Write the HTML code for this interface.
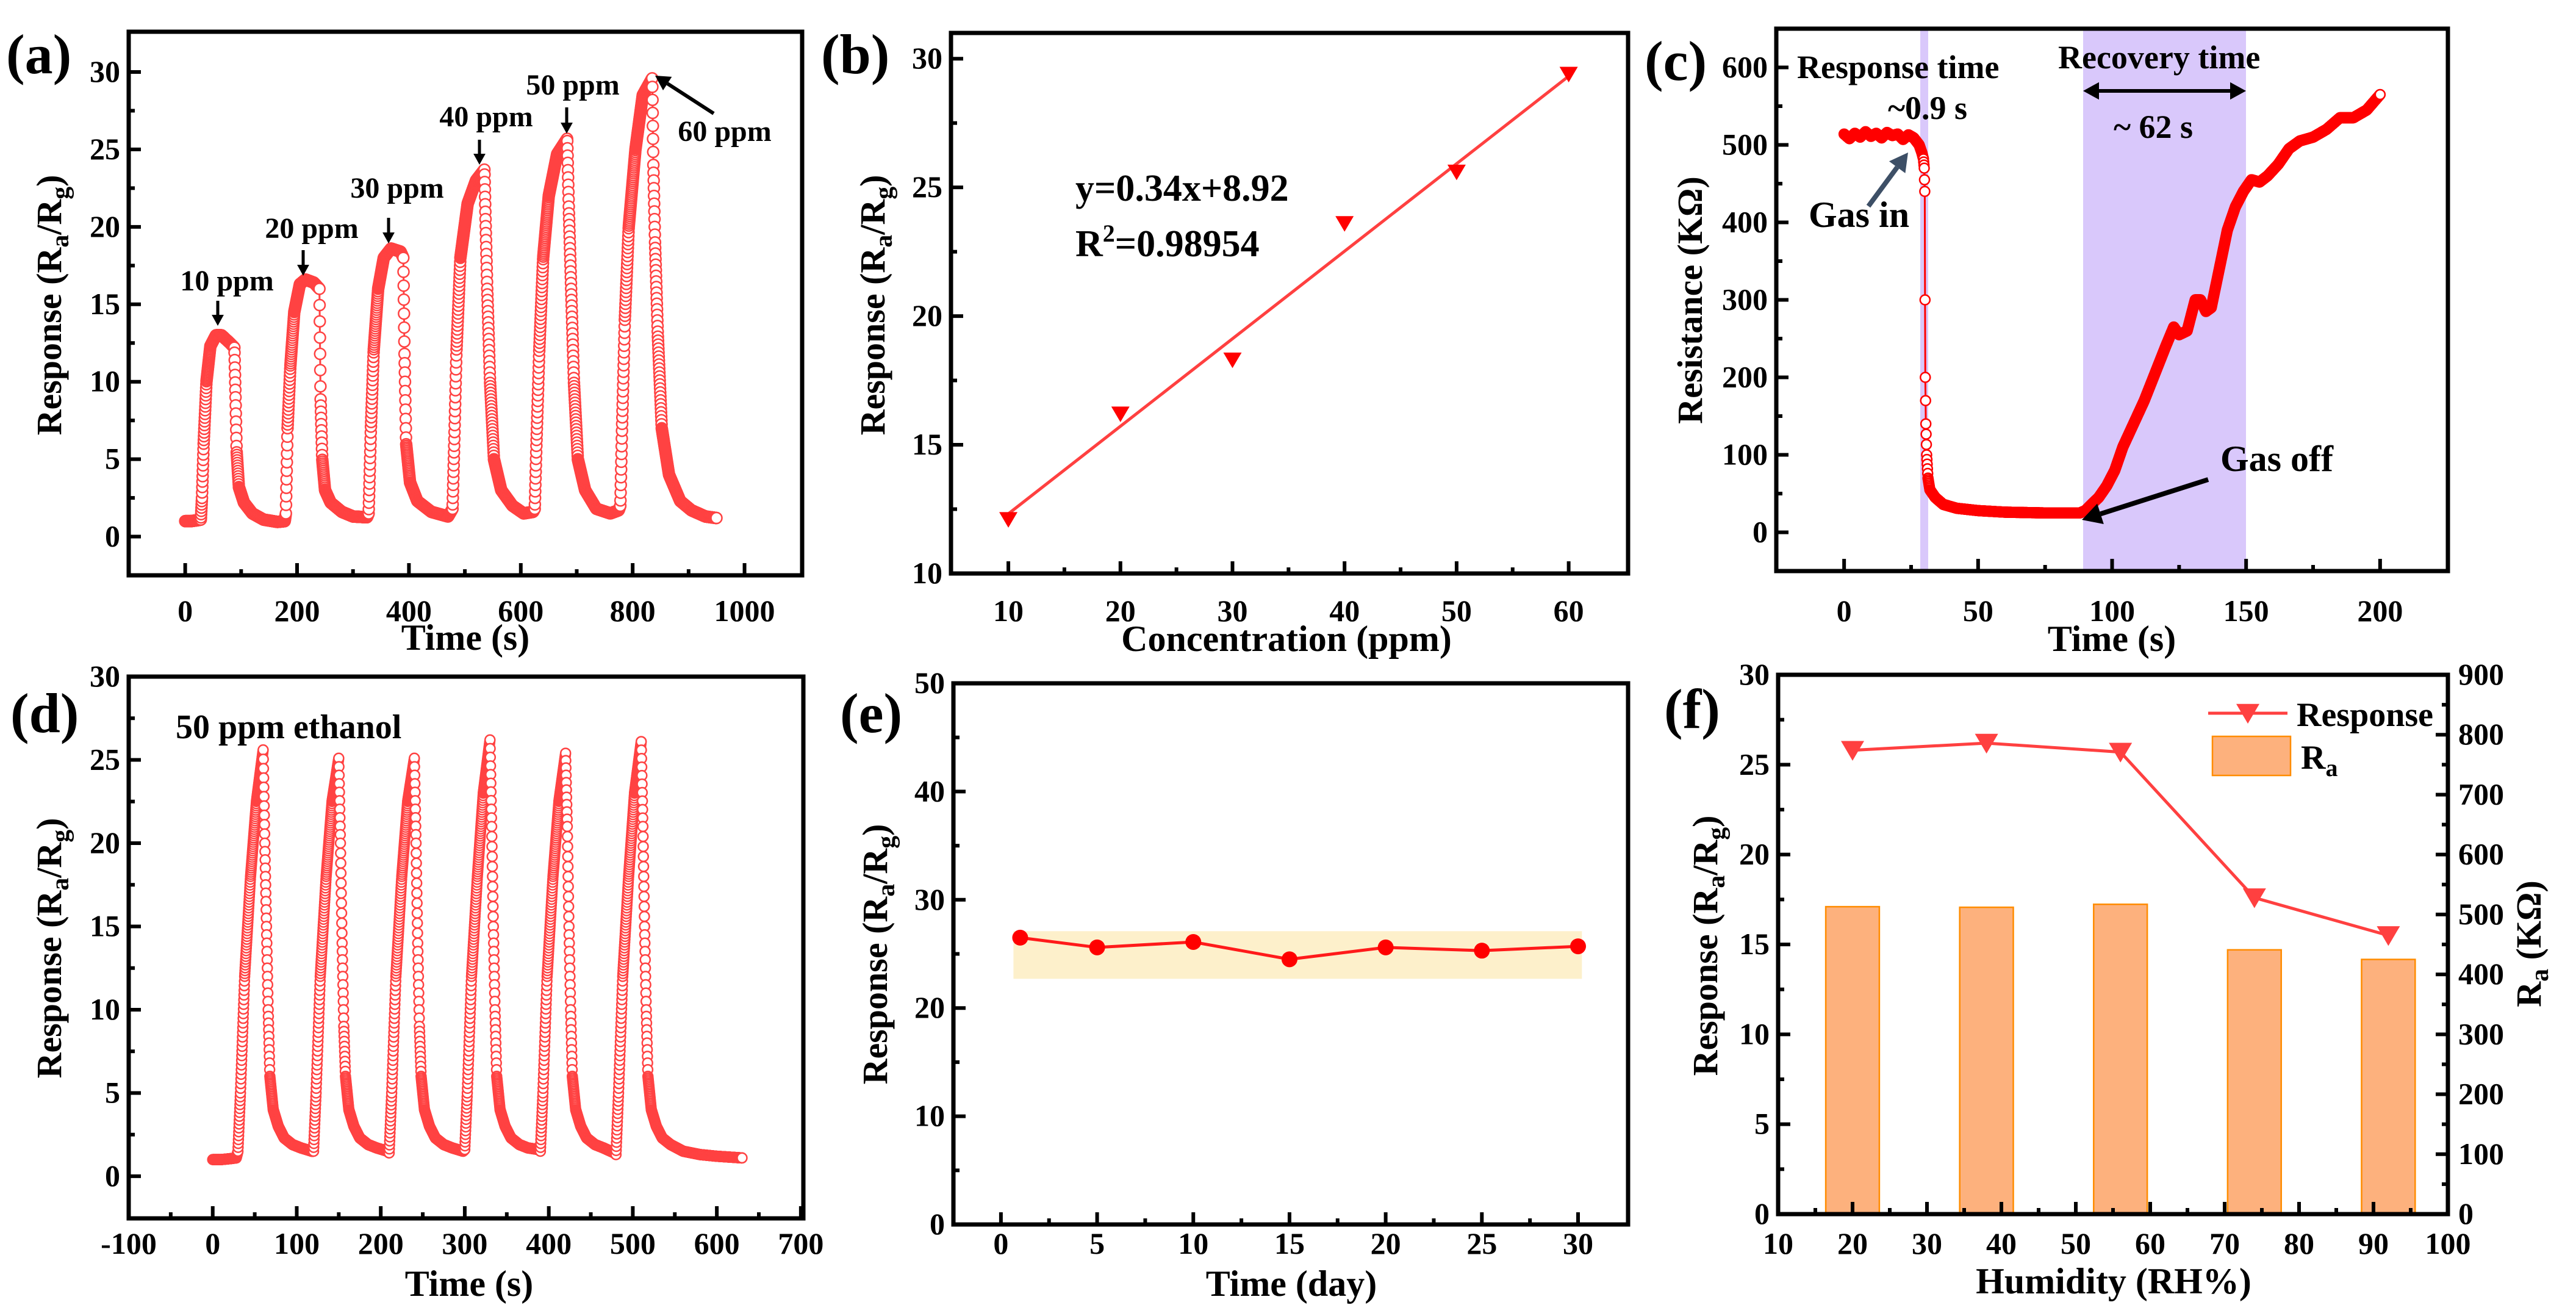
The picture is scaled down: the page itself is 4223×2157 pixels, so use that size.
<!DOCTYPE html>
<html><head><meta charset="utf-8"><title>Gas sensor figure</title>
<style>
html,body{margin:0;padding:0;background:#fff;}
svg{display:block;}
svg text{font-family:"Liberation Serif","Times New Roman",serif;font-weight:bold;}
</style></head>
<body>
<svg id="fig" xmlns="http://www.w3.org/2000/svg" width="4223" height="2157" viewBox="0 0 4223 2157" font-family="Liberation Serif, serif" font-weight="bold"></svg>
<script>
// ---------- DATA ----------
const aTime = [0,10,20,28,30,33,38,45,55,65,80,88,90,92,96,105,120,140,165,178,
 180,183,188,195,205,215,230,240,242,245,250,260,280,300,325,
 328,332,337,345,355,368,385,390,392,395,402,415,440,470,
 478,481,485,492,505,520,535,537,540,545,552,565,585,605,622,
 625,628,633,640,650,665,683,686,690,695,702,715,735,760,775,
 778,781,786,793,805,818,835,837,840,845,852,865,885,905,930,950];
const aResp = [1,1,1.05,1.1,2.5,6,10,12.3,13,13,12.5,12.2,9,5.5,3.2,2.2,1.5,1.1,0.95,1,
 1.5,7,11,14.5,16.3,16.6,16.4,16,9,5,3,2.2,1.6,1.3,1.25,
 1.5,7,12,16,18,18.6,18.4,18,12,6,3.5,2.3,1.6,1.3,
 1.8,6,12,18,21.5,23,23.7,20.5,16,10,5,3,2,1.5,1.6,
 1.8,6,12,18,22,24.7,25.7,21,16,10,5,3,1.8,1.5,1.7,
 2,7,14,20,25,28.5,29.6,24,19,13,7,4,2.3,1.7,1.3,1.2];
const aLabels = ["10 ppm","20 ppm","30 ppm","40 ppm","50 ppm","60 ppm"];
const bConc = [10,20,30,40,50,60];
const bResp = [12.1,16.2,18.3,23.6,25.6,29.4];
const bSlope = 0.34, bIntercept = 8.92;
const cTime = [0,2,4,6,8,10,12,14,16,18,20,22,24,26,28,29,29.6,29.9,30.1,30.2,30.3,30.5,30.8,31.3,32,34,37,42,50,60,75,88,
 90,92,95,98,101,104,108,112,116,120,123,125,128,131,133,135,137,140,143,146,149,152,155,158,162,166,170,175,180,185,190,195,200];
const cRes = [514,508,515,510,517,511,515,509,516,512,514,507,513,509,500,490,482,470,440,300,200,140,100,70,55,45,36,31,28,26,25,25,
 28,35,45,60,80,110,140,170,205,240,265,255,260,300,300,285,290,340,390,420,440,455,452,460,475,495,505,510,520,535,535,545,565];
const dTime = [0,10,20,28,30,33,38,45,52,60,62,64,66,68,72,78,85,95,105,118,
 120,123,128,135,142,150,152,154,156,158,162,168,175,185,195,208,
 210,213,218,225,232,240,242,244,246,248,252,258,265,275,285,298,
 300,303,308,315,322,330,332,334,336,338,342,348,355,365,375,388,
 390,393,398,405,412,420,422,424,426,428,432,438,445,455,465,478,
 480,483,488,495,502,510,512,514,516,518,522,528,535,545,560,580,600,630];
const dResp = [1,1,1.05,1.1,1.5,5,12,18,22.5,25.6,20,15,10,6,4,3,2.3,1.9,1.7,1.5,
 1.5,5,12,18,22.5,25.1,20,14,9,6,4,3,2.3,1.9,1.7,1.5,
 1.4,5,12,18,22.5,25.1,20,14,9,6,4,3,2.3,1.9,1.7,1.5,
 1.6,5,12,18,23,26.2,21,15,10,6,4,3,2.3,1.9,1.7,1.6,
 1.5,5,12,18,22.5,25.4,21,15,10,6,4,3,2.3,1.9,1.7,1.4,
 1.3,5,12,18,23,26.1,21,15,10,6,4,3,2.3,1.9,1.5,1.3,1.2,1.1];
const eDay = [1,5,10,15,20,25,30];
const eResp = [26.5,25.6,26.1,24.5,25.6,25.3,25.7];
const eBand = [22.7,27.1];
const fHum = [20,38,56,74,92];
const fResp = [25.8,26.2,25.7,17.6,15.5];
const fRa = [513,512,517,441,425];

// ---------- HELPERS ----------
const NS = "http://www.w3.org/2000/svg";
const svg = document.getElementById('fig');
const FONT = '"Liberation Serif", "Times New Roman", serif';
function mk(tag, attrs, parent){
  const e = document.createElementNS(NS, tag);
  for (const k in attrs) e.setAttribute(k, attrs[k]);
  if (tag==='text'){ e.setAttribute('font-family', FONT); e.setAttribute('font-weight','bold'); }
  (parent||svg).appendChild(e);
  return e;
}
function txt(s, x, y, size, anchor, parent){
  const t = mk('text', {x:x, y:y, 'font-size':size, 'text-anchor':anchor||'start', fill:'#000'}, parent);
  t.textContent = s;
  return t;
}
function scale(d0,d1,p0,p1){ return v => p0 + (v-d0)*(p1-p0)/(d1-d0); }

function axes(cfg){
  const g = mk('g', {});
  
  
  const X = scale(cfg.xd[0],cfg.xd[1],cfg.xp[0],cfg.xp[1]);
  const Y = scale(cfg.yd[0],cfg.yd[1],cfg.yp[0],cfg.yp[1]);
  cfg.X = X; cfg.Y = Y; cfg.g = g;
  const L=cfg.xp[0], R=cfg.xp[1], T=cfg.yp[1], B=cfg.yp[0];
  for (let v=cfg.xt[0]; v<=cfg.xt[1]+1e-9; v+=cfg.xt[2]/2){
    const major = Math.abs(((v-cfg.xt[0])/cfg.xt[2]) - Math.round((v-cfg.xt[0])/cfg.xt[2]))<1e-6;
    const px = X(v);
    const tk = mk('line',{x1:px,x2:px,y1:B,y2:B-(major?20:10),stroke:'#000','stroke-width':6},g);
    
    
    if (major){
      const t = txt(String(Math.round(v*10)/10), px, cfg.xlabY, 50, 'middle', g);
      
      
    }
  }
  for (let v=cfg.yt[0]; v<=cfg.yt[1]+1e-9; v+=cfg.yt[2]/2){
    const major = Math.abs(((v-cfg.yt[0])/cfg.yt[2]) - Math.round((v-cfg.yt[0])/cfg.yt[2]))<1e-6;
    const py = Y(v);
    const tk = mk('line',{x1:L,x2:L+(major?20:10),y1:py,y2:py,stroke:'#000','stroke-width':6},g);
    
    
    if (major){
      const t = txt(String(v), L-14, py+16, 50, 'end', g);
      
      
    }
  }
  const fr = mk('rect',{x:L,y:T,width:R-L,height:B-T,fill:'none',stroke:'#000','stroke-width':7},g);
  
  
  return cfg;
}
// parts: [text, dy, isSubscript]
function ytitle(parts, cx, cy, size, parent){
  const t = mk('text',{transform:`translate(${cx},${cy}) rotate(-90)`,'text-anchor':'middle','font-size':size,fill:'#000'},parent);
  
  
  parts.forEach(p=>{
    const at = {};
    if (p[1]) at.dy = p[1];
    if (p[2]) at['font-size'] = size*0.72;
    const s = mk('tspan', at, t);
    s.textContent = p[0];
  });
  return t;
}
const RESP = [['Response (R'],['a',12,true],['/R',-12],['g',12,true],[')',-12]];
function xtitle(s, cx, y, parent){
  const t = txt(s, cx, y, 60, 'middle', parent);
  
  
}
function panelLabel(s,x,y){
  const t = txt(s,x,y,92,'start');
  
  
}
function transient(ax, ts, vs, step, r, color, name){
  const g = mk('g',{});
  
  
  let pts = ts.map((t,i)=>ax.X(t)+','+ax.Y(vs[i])).join(' ');
  mk('polyline',{points:pts,fill:'none',stroke:color,'stroke-width':3},g);
  let i=0;
  for (let t=ts[0]; t<=ts[ts.length-1]+1e-9; t+=step){
    while (i<ts.length-2 && ts[i+1]<t) i++;
    const f = (t-ts[i])/(ts[i+1]-ts[i]);
    const v = vs[i] + (vs[i+1]-vs[i])*Math.max(0,Math.min(1,f));
    mk('circle',{cx:ax.X(t),cy:ax.Y(v),r:r,fill:'#fff',stroke:color,'stroke-width':2.5},g);
  }
  return g;
}
function arrow(x1,y1,x2,y2,color,w,head,name,both){
  const g = mk('g',{});
  
  
  const a = Math.atan2(y2-y1,x2-x1);
  const hx = x2 - head*Math.cos(a), hy = y2 - head*Math.sin(a);
  const sx = both? x1 + head*Math.cos(a) : x1, sy = both? y1 + head*Math.sin(a) : y1;
  mk('line',{x1:sx,y1:sy,x2:hx,y2:hy,stroke:color,'stroke-width':w},g);
  const hw = head*0.55;
  const tri = (px,py,bx,by)=> `${px},${py} ${bx+hw*Math.sin(a)},${by-hw*Math.cos(a)} ${bx-hw*Math.sin(a)},${by+hw*Math.cos(a)}`;
  mk('polygon',{points:tri(x2,y2,hx,hy),fill:color},g);
  if (both) mk('polygon',{points:tri(x1,y1,sx,sy),fill:color},g);
}
function downTri(cx,cy,s,color,parent){
  return mk('polygon',{points:`${cx-s},${cy-s*0.8} ${cx+s},${cy-s*0.8} ${cx},${cy+s*0.9}`,fill:color},parent);
}

// ---------- PANEL A ----------
const A = axes({name:'panel-a-axes',xd:[-101,1103],xp:[211,1315],yd:[-2.5,32.6],yp:[943,52],xt:[0,1000,200],yt:[0,30,5],xlabY:1018});
transient(A, aTime, aResp, 0.3, 9, '#ff4242', 'panel-a-response-series');
ytitle(RESP, 100, 500, 58);
xtitle('Time (s)', 763, 1065);
panelLabel('(a)', 10, 120);
const aLab = [[372,476,357,493,534],[511,390,497,410,452],[651,324,637,357,399],[797,207,786,229,270],[939,155,929,176,219]];
aLab.forEach((p,i)=>{
  const t = txt(aLabels[i], p[0], p[1], 48, 'middle');
  
  
  arrow(p[2],p[3],p[2],p[4],'#000',5,18,'concentration-arrow');
});
{ const t = txt(aLabels[5], 1188, 231, 48, 'middle');
  
  
  arrow(1170,186,1074,124,'#000',6,24,'concentration-arrow'); }

// ---------- PANEL B ----------
const B = axes({name:'panel-b-axes',xd:[4.88,65.3],xp:[1559,2669],yd:[10,31],yp:[940,54],xt:[10,60,10],yt:[10,30,5],xlabY:1018});
{
  const g = mk('g',{});
  
  
  const x0=bConc[0], x1=bConc[bConc.length-1];
  mk('line',{x1:B.X(x0),y1:B.Y(bSlope*x0+bIntercept),x2:B.X(x1),y2:B.Y(bSlope*x1+bIntercept),stroke:'#ff4040','stroke-width':5},g);
  bConc.forEach((c,i)=>{
    const m = downTri(B.X(c),B.Y(bResp[i]),15,'#ff0000');
    
    
  });
}
ytitle(RESP, 1450, 500, 58);
xtitle('Concentration (ppm)', 2109, 1067);
panelLabel('(b)', 1346, 120);
{ const t = txt('y=0.34x+8.92', 1763, 329, 62, 'start');  
  const t2 = mk('text',{x:1763,y:420,'font-size':62,fill:'#000'});  
  t2.innerHTML = 'R<tspan font-size="40" dy="-24">2</tspan><tspan dy="24">=0.98954</tspan>'; }

// ---------- PANEL C ----------
const C = axes({name:'panel-c-axes',xd:[-25.3,225.3],xp:[2912,4013],yd:[-50,650],yp:[936,47],xt:[0,200,50],yt:[0,600,100],xlabY:1018});
{
  const sh1 = mk('rect',{x:3148,y:50,width:13,height:883,fill:'#d9c8fb'});
   
  const sh2 = mk('rect',{x:3415,y:50,width:267,height:883,fill:'#d9c8fb'});
   
  svg.appendChild(C.g);
}
transient(C, cTime, cRes, 0.1, 8, '#ff0000', 'panel-c-resistance-series');
ytitle([['Resistance (KΩ)']], 2790, 492, 58);
xtitle('Time (s)', 3462, 1067);
panelLabel('(c)', 2696, 131);
[['Response time',2946,128,'start'],['~0.9 s',3160,195,'middle'],['Recovery time',3374,112,'start'],['~ 62 s',3530,226,'middle'],['Gas in',2965,372,'start'],['Gas off',3640,772,'start']].forEach(p=>{
  const t = txt(p[0],p[1],p[2],p[0].startsWith('Gas')?60:54,p[3]);
  
  
});
arrow(3415,149,3682,149,'#000',6,26,'recovery-double-arrow',true);
arrow(3063,338,3128,250,'#3d4f66',8,30,'gas-in-arrow');
arrow(3620,786,3413,852,'#000',8,32,'gas-off-arrow');

// ---------- PANEL D ----------
const D = axes({name:'panel-d-axes',xd:[-100,703],xp:[211,1317],yd:[-2.53,30],yp:[1997,1109],xt:[-100,700,100],yt:[0,30,5],xlabY:2055});
transient(D, dTime, dResp, 0.2, 8, '#ff4242', 'panel-d-response-series');
ytitle(RESP, 100, 1554, 58);
xtitle('Time (s)', 769, 2124);
panelLabel('(d)', 17, 1200);
{ const t = txt('50 ppm ethanol', 288, 1210, 56, 'start');   }

// ---------- PANEL E ----------
const E = axes({name:'panel-e-axes',xd:[-2.47,32.6],xp:[1563,2669],yd:[0,50],yp:[2007,1120],xt:[0,30,5],yt:[0,50,10],xlabY:2055});
{
  const band = mk('rect',{x:E.X(0.65),y:E.Y(eBand[1]),width:E.X(30.2)-E.X(0.65),height:E.Y(eBand[0])-E.Y(eBand[1]),fill:'#fdf0cb'});
   
  svg.appendChild(E.g);
  const g = mk('g',{});
   
  mk('polyline',{points:eDay.map((d,i)=>E.X(d)+','+E.Y(eResp[i])).join(' '),fill:'none',stroke:'#ff1a1a','stroke-width':5},g);
  eDay.forEach((d,i)=>{
    const c = mk('circle',{cx:E.X(d),cy:E.Y(eResp[i]),r:13,fill:'#ff0000'},g);
    
    
  });
}
ytitle(RESP, 1454, 1564, 58);
xtitle('Time (day)', 2117, 2124);
panelLabel('(e)', 1377, 1200);

// ---------- PANEL F ----------
const F = axes({name:'panel-f-axes',xd:[10,100],xp:[2915,4013],yd:[0,30],yp:[1990,1106],xt:[10,100,10],yt:[0,30,5],xlabY:2055});
const FR = scale(0,900,1990,1106);
{
  const g = mk('g',{});
   
  const bw = F.X(17.2)-F.X(10);
  fHum.forEach((h,i)=>{
    const b = mk('rect',{x:F.X(h)-bw/2,y:FR(fRa[i]),width:bw,height:1990-FR(fRa[i]),fill:'#fdb17d',stroke:'#ff8c00','stroke-width':2.5},g);
    
    
  });
  svg.appendChild(F.g);
  for (let v=0; v<=900; v+=50){
    const major = v%100===0;
    mk('line',{x1:4013,x2:4013-(major?20:10),y1:FR(v),y2:FR(v),stroke:'#000','stroke-width':6});
    if (major){ const t = txt(String(v),4030,FR(v)+16,50,'start');   }
  }
  const lg = mk('g',{});
   
  mk('polyline',{points:fHum.map((h,i)=>F.X(h)+','+F.Y(fResp[i])).join(' '),fill:'none',stroke:'#ff4040','stroke-width':5},lg);
  fHum.forEach((h,i)=>{
    const m = downTri(F.X(h),F.Y(fResp[i]),19,'#ff4040',lg);
    
    
  });
  const leg = mk('g',{});
   
  mk('line',{x1:3620,x2:3750,y1:1169,y2:1169,stroke:'#ff4040','stroke-width':5},leg);
  downTri(3685,1169,19,'#ff4040',leg);
  txt('Response',3765,1190,56,'start',leg);
  mk('rect',{x:3627,y:1207,width:128,height:64,fill:'#fdb17d',stroke:'#ff8c00','stroke-width':2.5},leg);
  const ra = mk('text',{x:3772,y:1260,'font-size':56,fill:'#000'},leg);
  ra.innerHTML = 'R<tspan font-size="40" dy="12">a</tspan>';
}
ytitle(RESP, 2815, 1550, 58);
{ const t = mk('text',{transform:'translate(4165,1547) rotate(-90)','text-anchor':'middle','font-size':58,fill:'#000'});
   
  t.innerHTML = 'R<tspan font-size="42" dy="12">a</tspan><tspan dy="-12"> (KΩ)</tspan>'; }
xtitle('Humidity (RH%)', 3465, 2120);
panelLabel('(f)', 2728, 1193);
</script>
</body></html>
